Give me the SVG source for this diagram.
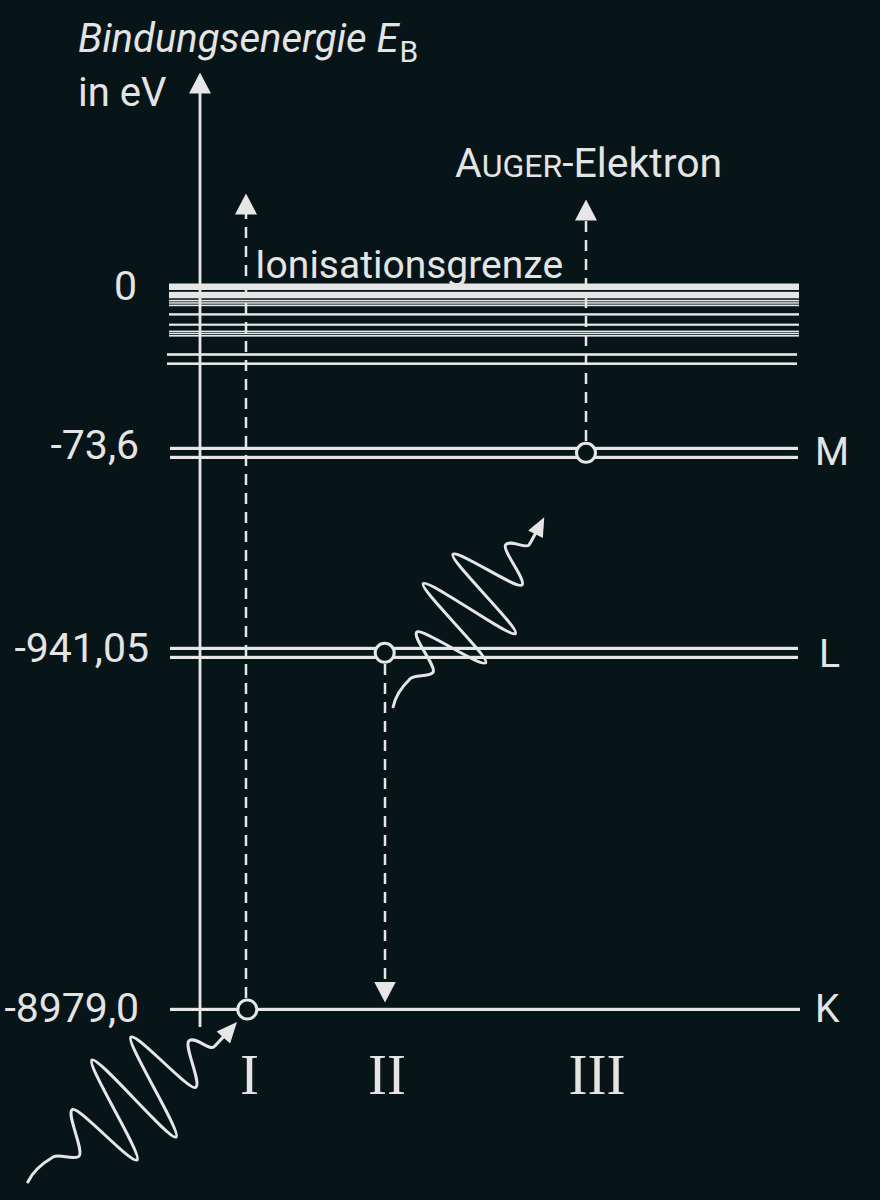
<svg xmlns="http://www.w3.org/2000/svg" xmlns:xlink="http://www.w3.org/1999/xlink" width="880" height="1200" viewBox="0 0 880 1200">
<style>
.txt{font-family:Roboto,"Liberation Sans",sans-serif;fill:#e4e4e4}
.num{font-size:41px;text-anchor:end}
.lvl{font-size:39px}
.rom{font-family:"Liberation Serif","DejaVu Serif",serif;font-size:57px;fill:#e4e4e4;text-anchor:middle}
.ln{fill:#e6e6e6}
.axis{stroke:#e6e6e6;stroke-width:2.8;fill:none}
.dash{stroke:#e6e6e6;stroke-width:2.5;stroke-dasharray:11 8;fill:none}
.circ{fill:#071418;stroke:#e6e6e6;stroke-width:3}
.wave{fill:none;stroke:#e6e6e6;stroke-width:3;stroke-linecap:round;stroke-linejoin:round}
</style>
<defs>
<marker id="head" markerUnits="userSpaceOnUse" viewBox="0 0 21 22" markerWidth="21" markerHeight="22" refX="0.5" refY="11" orient="auto">
<path d="M0,0 L21,11 L0,22 z" fill="#e6e6e6"/>
</marker>
<g id="photon">
<path class="wave" vector-effect="non-scaling-stroke" transform="matrix(19.5 -11.5 -32.25 -44.25 18.25 -31.75)" d="M-1.49,-0.33 C-1.0,-0.2 -0.3,-0.17 0.07,-0.17 C0.4,-0.17 0.66,-0.4 1,-0.4 C1.34,-0.4 1.66,0.4 2,0.4 C2.34,0.4 2.66,-1 3,-1 C3.34,-1 3.66,1 4,1 C4.34,1 4.66,-1 5,-1 C5.34,-1 5.66,1 6,1 C6.34,1 6.66,-0.4 7,-0.4 C7.34,-0.4 7.66,0.4 8,0.4 C8.34,0.4 8.45,0.06 8.7,0.07 C8.85,0.08 9.0,0.104 9.3,0.14"/>
<polygon fill="#e6e6e6" points="209,-160 188.6,-150.45 202.1,-138.55"/>
</g>
</defs>
<rect width="880" height="1200" fill="#071418"/>

<g id="band">
<rect class="ln" x="169" y="283.5" width="630" height="6.5"/>
<rect class="ln" x="169" y="291.8" width="630" height="6.5"/>
<rect class="ln" x="169" y="299.8" width="630" height="1.6"/>
<rect class="ln" x="169" y="302.2" width="630" height="1.5"/>
<rect class="ln" x="169" y="304.6" width="630" height="1.6"/>
<rect class="ln" x="169" y="313.2" width="630" height="2.4"/>
<rect class="ln" x="169" y="323.6" width="630" height="2.2"/>
<rect class="ln" x="169" y="330.6" width="630" height="1.6"/>
<rect class="ln" x="169" y="332.8" width="630" height="1.4"/>
<rect class="ln" x="169" y="335.0" width="630" height="1.6"/>
<rect class="ln" x="167" y="353.2" width="630" height="2.6"/>
<rect class="ln" x="167" y="362.4" width="630" height="2.6"/>
</g>
<g id="level-M">
<rect class="ln" x="170" y="446.8" width="628" height="3.2"/>
<rect class="ln" x="170" y="455.8" width="628" height="3.2"/>
</g>
<g id="level-L">
<rect class="ln" x="170" y="646.8" width="628" height="3.2"/>
<rect class="ln" x="170" y="655.8" width="628" height="3.2"/>
</g>
<g id="level-K">
<rect class="ln" x="170" y="1007.8" width="630" height="3.2"/>
</g>

<g id="axis">
<line class="axis" x1="200" y1="1027" x2="200" y2="93" marker-end="url(#head)"/>
</g>

<g id="connectors">
<line class="dash" x1="246" y1="998" x2="246" y2="214" marker-end="url(#head)"/>
<line class="dash" x1="385" y1="664" x2="385" y2="982" marker-end="url(#head)"/>
<line class="dash" x1="586" y1="441" x2="586" y2="220" marker-end="url(#head)"/>
</g>

<g id="electrons">
<circle class="circ" cx="586" cy="452.8" r="9.5"/>
<circle class="circ" cx="384.7" cy="652.8" r="9.5"/>
<circle class="circ" cx="247.3" cy="1009.5" r="9.5"/>
</g>

<g id="photon-in">
<use xlink:href="#photon" transform="translate(28,1182)"/>
</g>
<g id="photon-out">
<use xlink:href="#photon" transform="translate(393.3,706.7) rotate(-14) scale(0.92)"/>
</g>

<g id="labels">
<text class="txt" x="78" y="52" font-size="40" font-style="italic">Bindungsenergie E<tspan font-size="30" font-style="normal" dy="10" dx="1">B</tspan></text>
<text class="txt" x="78" y="106" font-size="40">in eV</text>
<text class="txt" x="255" y="278" font-size="39">Ionisationsgrenze</text>
<text class="txt" x="455" y="177" font-size="41">A<tspan font-size="32">UGER</tspan>-Elektron</text>
<text class="txt num" x="137" y="300">0</text>
<text class="txt num" x="139" y="459">-73,6</text>
<text class="txt num" x="149" y="662">-941,05</text>
<text class="txt num" x="139" y="1022">-8979,0</text>
<text class="txt lvl" x="815" y="465">M</text>
<text class="txt lvl" x="819" y="667">L</text>
<text class="txt lvl" x="815" y="1022">K</text>
<text class="rom" x="249.5" y="1094">I</text>
<text class="rom" x="387" y="1094">II</text>
<text class="rom" x="597" y="1094">III</text>
</g>
</svg>
